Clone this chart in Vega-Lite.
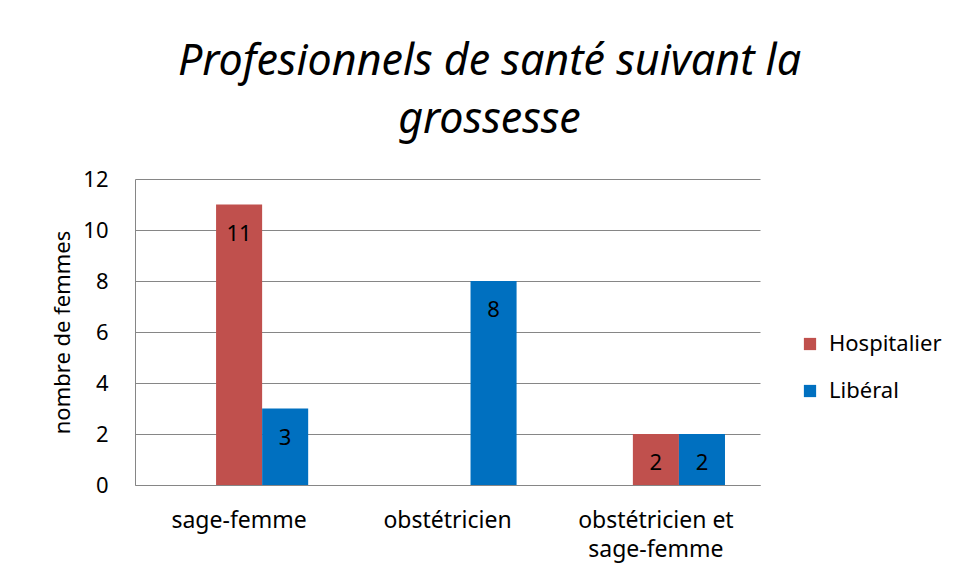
{
  "$schema": "https://vega.github.io/schema/vega-lite/v6.json",
  "autosize": "none",
  "width": 625,
  "height": 306,
  "padding": {"left": 135, "top": 179, "right": 197, "bottom": 94},
  "background": "white",
  "title": {
    "text": ["Profesionnels de santé suivant la", "grossesse"],
    "font": "Noto Sans",
    "fontSize": 43,
    "fontStyle": "italic",
    "fontWeight": "normal",
    "color": "black",
    "lineHeight": 58,
    "anchor": "middle",
    "dx": 42,
    "offset": 26
  },
  "data": {
    "values": [
      {"cat": "sage-femme", "serie": "Hospitalier", "n": 11},
      {"cat": "sage-femme", "serie": "Libéral", "n": 3},
      {"cat": "obstétricien", "serie": "Libéral", "n": 8},
      {"cat": "obstétricien et sage-femme", "serie": "Hospitalier", "n": 2},
      {"cat": "obstétricien et sage-femme", "serie": "Libéral", "n": 2}
    ]
  },
  "encoding": {
    "x": {
      "field": "cat",
      "type": "nominal",
      "sort": null,
      "scale": {"domain": ["sage-femme", "obstétricien", "obstétricien et sage-femme"], "paddingInner": 0.337, "paddingOuter": 0.168},
      "axis": {
        "title": null,
        "labelAngle": 0,
        "labelFont": "Noto Sans",
        "labelFontSize": 23,
        "labelColor": "black",
        "labelPadding": 24,
        "labelLineHeight": 29,
        "labelBaseline": "top",
        "ticks": false,
        "domainColor": "#868686",
        "labelExpr": "datum.value == 'obstétricien et sage-femme' ? ['obstétricien et', 'sage-femme'] : datum.value"
      }
    },
    "xOffset": {
      "field": "serie",
      "type": "nominal",
      "scale": {"domain": ["_", "Hospitalier", "Libéral"], "paddingInner": 0, "paddingOuter": 0}
    },
    "y": {
      "field": "n",
      "type": "quantitative",
      "scale": {"domain": [0, 12]},
      "axis": {
        "title": "nombre de femmes",
        "titleFont": "Noto Sans",
        "titleFontSize": 22,
        "titleFontWeight": "normal",
        "titleColor": "black",
        "titlePadding": 8,
        "values": [0, 2, 4, 6, 8, 10, 12],
        "labelFont": "Noto Sans",
        "labelFontSize": 22,
        "labelColor": "black",
        "labelPadding": 27,
        "ticks": false,
        "domainColor": "#868686",
        "grid": true,
        "gridColor": "#868686",
        "gridWidth": 1
      }
    }
  },
  "layer": [
    {
      "mark": {"type": "bar"},
      "encoding": {
        "color": {
          "field": "serie",
          "type": "nominal",
          "scale": {"domain": ["Hospitalier", "Libéral"], "range": ["#C0504D", "#0070C0"]},
          "legend": {
            "title": null,
            "orient": "none",
            "legendX": 664,
            "legendY": 154,
            "symbolType": "square",
            "symbolSize": 150,
            "symbolStrokeWidth": 0,
            "labelFont": "Noto Sans",
            "labelFontSize": 22,
            "labelColor": "black",
            "rowPadding": 25,
            "labelOffset": 8
          }
        }
      }
    },
    {
      "mark": {"type": "text", "baseline": "middle", "dy": 29, "font": "Noto Sans", "fontSize": 22, "color": "black"},
      "encoding": {"text": {"field": "n", "type": "quantitative"}}
    }
  ],
  "config": {"view": {"stroke": null}}
}
